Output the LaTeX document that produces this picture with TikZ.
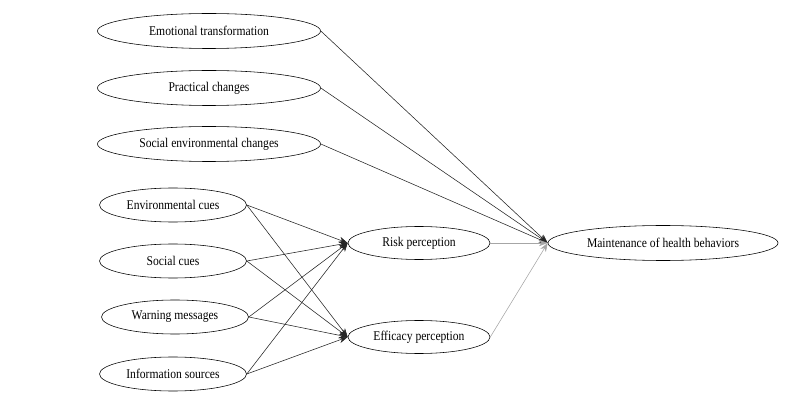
\documentclass[tikz,border=0pt]{standalone}
\usepackage{fontspec}
\setmainfont{Liberation Serif}[FakeStretch=0.87]
\usetikzlibrary{shapes.geometric,arrows.meta}

\begin{document}
\begin{tikzpicture}[x=0.025cm,y=-0.025cm,>={Stealth[length=2.2mm,width=1.6mm]},
  var/.style={draw,ellipse,inner sep=0pt,font=\fontsize{9.5}{11}\selectfont},
  wide/.style={var,minimum width=5.575cm,minimum height=0.875cm},
  cue/.style={var,minimum width=3.675cm,minimum height=0.85cm},
  percep/.style={var,minimum width=3.55cm,minimum height=0.825cm},
  path/.style={->,black!85},
  weak/.style={->,gray!70,thin}]
\useasboundingbox (0,0) rectangle (797,400);
% direct changes
\node[wide] (emo) at (209,31) {Emotional transformation};
\node[wide] (prac) at (209,88) {Practical changes};
\node[wide] (soc) at (209,144) {Social environmental changes};
% cues
\node[cue] (env) at (173,205) {Environmental cues};
\node[cue] (scue) at (173,261) {Social cues};
\node[cue] (warn) at (175,317) {Warning messages};
\node[cue] (info) at (173,374) {Information sources};
% perceptions and outcome
\node[percep] (risk) at (419,243) {Risk perception};
\node[percep] (eff) at (419,337) {Efficacy perception};
\node[var,minimum width=5.75cm,minimum height=0.875cm] (main) at (663,243) {Maintenance of health behaviors};

\foreach \src in {emo,prac,soc}
  \draw[path] (\src.east) -- (main.west);
\foreach \src in {env,scue,warn,info}{
  \draw[path] (\src.east) -- (risk.west);
  \draw[path] (\src.east) -- (eff.west);
}
\draw[weak] (risk.east) -- (main.west);
\draw[weak] (eff.east) -- (main.west);
\end{tikzpicture}
\end{document}
